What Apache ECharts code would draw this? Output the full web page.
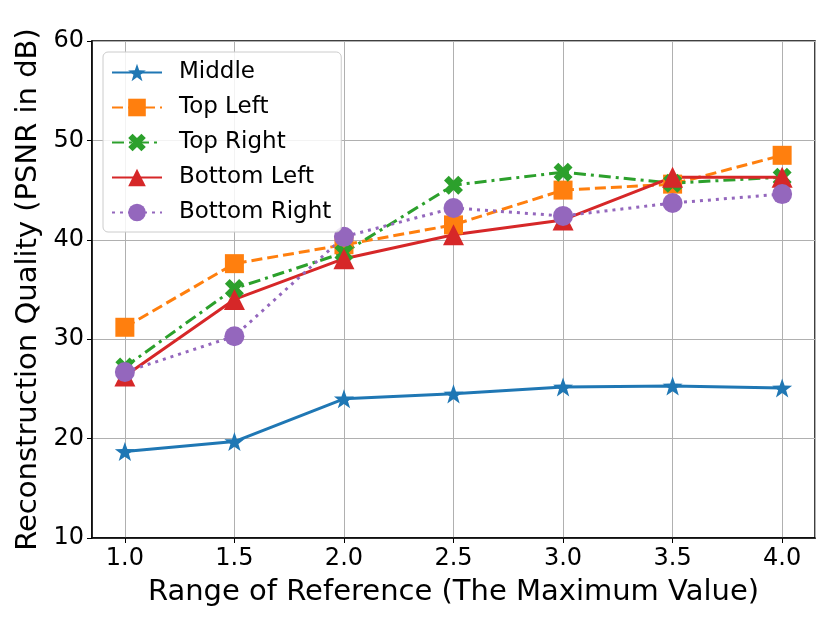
<!DOCTYPE html>
<html>
<head>
<meta charset="utf-8">
<script src="https://cdn.jsdelivr.net/npm/echarts@6/dist/echarts.min.js"></script>
<style>
  html, body { margin: 0; padding: 0; background: #fff; }
  #chart { width: 830px; height: 623px; }
</style>
</head>
<body>
<div id="chart"></div>
<script>
// x positions (range of reference)
var ranges = [1.0, 1.5, 2.0, 2.5, 3.0, 3.5, 4.0];

// PSNR values
var middle      = [18.7, 19.7, 24.0, 24.5, 25.2, 25.3, 25.1];
var topLeft     = [31.2, 37.6, 39.5, 41.5, 45.0, 45.6, 48.5];
var topRight    = [27.2, 35.1, 38.7, 45.5, 46.8, 45.7, 46.3];
var bottomLeft  = [26.3, 34.0, 38.1, 40.5, 42.0, 46.3, 46.3];
var bottomRight = [26.7, 30.3, 40.3, 43.2, 42.4, 43.7, 44.6];

var yTicks = [10, 20, 30, 40, 50, 60];

function pairs(vals){
  var out = [];
  for (var i = 0; i < ranges.length; i++) {
    out.push([ranges[i], vals[i]]);
  }
  return out;
}

var starPath = 'path://M0,-10L2.35,-3.24L9.51,-3.09L3.8,1.24L5.88,8.09L0,4L-5.88,8.09L-3.8,1.24L-9.51,-3.09L-2.35,-3.24Z';
var xPath = 'path://M-5,-10L0,-5L5,-10L10,-5L5,0L10,5L5,10L0,5L-5,10L-10,5L-5,0L-10,-5Z';

function mkSeries(name, vals, color, dash, symbol, size){
  return {
    name: name,
    type: 'line',
    data: pairs(vals),
    symbol: symbol,
    symbolSize: size,
    symbolKeepAspect: true,
    showAllSymbol: true,
    itemStyle: { color: color, opacity: 1 },
    lineStyle: { color: color, width: 3, type: dash },
    emphasis: { disabled: true },
    animation: false
  };
}

var font = 'DejaVu Sans';

var option = {
  backgroundColor: '#fff',
  animation: false,
  grid: {
    left: 92, right: 15, top: 41, bottom: 85,
    show: true, borderColor: '#000', borderWidth: 1.5, backgroundColor: 'transparent'
  },
  legend: {
    orient: 'vertical',
    left: 103,
    top: 52,
    padding: [9, 10, 8, 8],
    itemGap: 12,
    itemWidth: 50,
    itemHeight: 22,
    backgroundColor: 'rgba(255,255,255,0.85)',
    borderColor: '#cccccc',
    borderWidth: 1,
    borderRadius: 5,
    textStyle: { fontFamily: font, fontSize: 23, lineHeight: 20, color: '#000', padding: [0, 0, 0, 12] },
    data: ['Middle', 'Top Left', 'Top Right', 'Bottom Left', 'Bottom Right']
  },
  xAxis: {
    type: 'value',
    min: 0.85,
    max: 4.15,
    splitNumber: 6,
    name: 'Range of Reference (The Maximum Value)',
    nameLocation: 'middle',
    nameGap: 40,
    nameTextStyle: { fontFamily: font, fontSize: 29, color: '#000' },
    axisLine: { show: true, lineStyle: { color: '#000', width: 1.5 } },
    axisTick: { show: true, inside: false, length: 5, lineStyle: { color: '#000' } },
    axisLabel: {
      showMinLabel: false, showMaxLabel: false,
      fontFamily: font, fontSize: 24, color: '#000', margin: 9,
      formatter: function(v){ return v.toFixed(1); }
    },
    splitLine: { show: true, lineStyle: { color: '#b0b0b0', width: 1 } }
  },
  yAxis: {
    type: 'value',
    min: yTicks[0],
    max: yTicks[yTicks.length - 1],
    interval: 10,
    name: 'Reconstruction Quality (PSNR in dB)',
    nameLocation: 'middle',
    nameGap: 49,
    nameTextStyle: { fontFamily: font, fontSize: 29, color: '#000' },
    axisLine: { show: true, lineStyle: { color: '#000', width: 1.5 } },
    axisTick: { show: true, inside: false, length: 5, lineStyle: { color: '#000' } },
    axisLabel: { fontFamily: font, fontSize: 24, color: '#000', margin: 8 },
    splitLine: { show: true, lineStyle: { color: '#b0b0b0', width: 1 } }
  },
  series: [
    mkSeries('Middle', middle, '#1f77b4', 'solid', starPath, 20),
    mkSeries('Top Left', topLeft, '#ff7f0e', [11, 5], 'rect', 19),
    mkSeries('Top Right', topRight, '#2ca02c', [12, 5, 3, 5], xPath, 19),
    mkSeries('Bottom Left', bottomLeft, '#d62728', 'solid', 'triangle', 21),
    mkSeries('Bottom Right', bottomRight, '#9467bd', [3, 5], 'circle', 20)
  ]
};

var myChart = echarts.init(document.getElementById('chart'), null, { renderer: 'canvas' });
myChart.setOption(option);
</script>
</body>
</html>
